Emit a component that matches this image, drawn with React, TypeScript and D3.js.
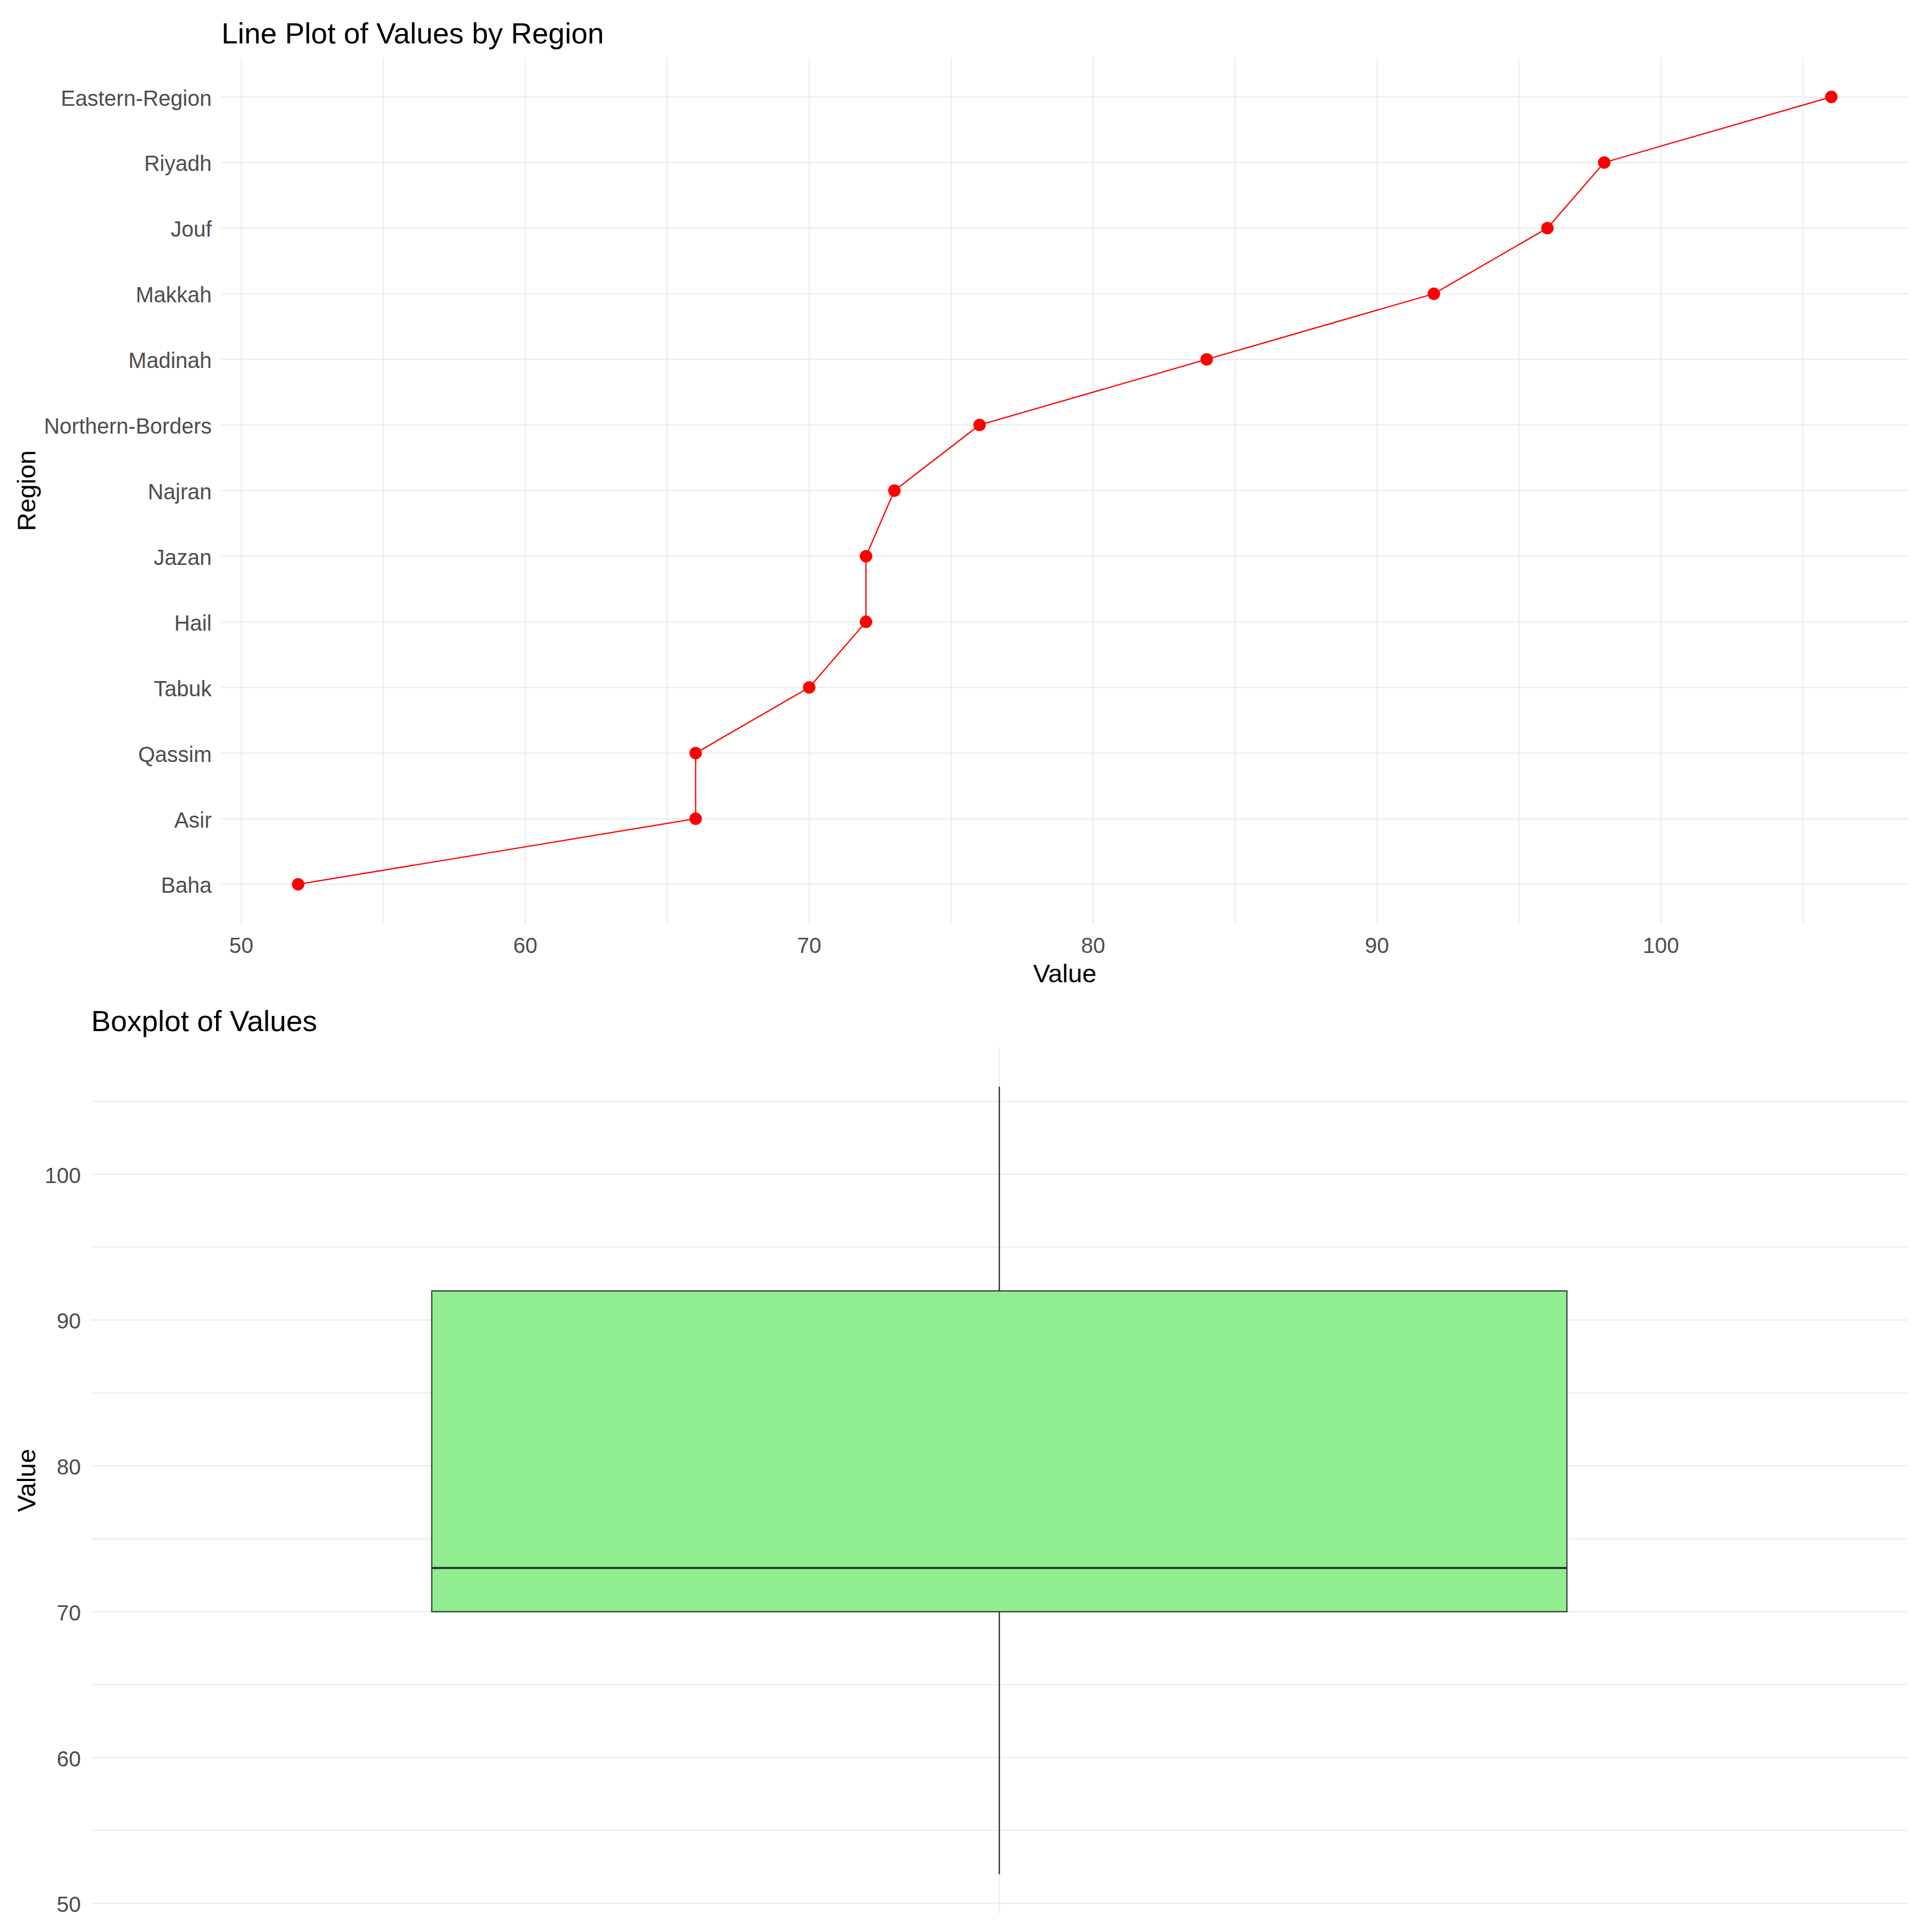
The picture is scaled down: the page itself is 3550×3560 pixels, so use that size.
import { useEffect, useRef } from 'react'
import * as d3 from 'd3'

const WIDTH = 3550
const HEIGHT = 3560
const FONT = '"Liberation Sans", Arial, sans-serif'

// Data (bottom to top)
const regions = ['Baha', 'Asir', 'Qassim', 'Tabuk', 'Hail', 'Jazan', 'Najran', 'Northern-Borders', 'Madinah', 'Makkah', 'Jouf', 'Riyadh', 'Eastern-Region']
const values = [52, 66, 66, 70, 72, 72, 73, 76, 84, 92, 96, 98, 106]
const valueTicks = [50, 60, 70, 80, 90, 100]
const valueMinorTicks = [55, 65, 75, 85, 95, 105]

// Panel boxes (ggplot-like layout)
const TOP = { left: 408, right: 3515, top: 106, bottom: 1702 }
const BOT = { left: 168, right: 3514, top: 1930, bottom: 3526 }

const GRID = '#ebebeb'
const AXIS_TEXT = '#4d4d4d'
const TICK_SIZE = 40

function App() {
  const svgRef = useRef<SVGSVGElement | null>(null)

  useEffect(() => {
    if (!svgRef.current) return
    const svg = d3.select(svgRef.current)
    svg.selectAll('*').remove()

    svg.append('rect').attr('width', WIDTH).attr('height', HEIGHT).attr('fill', '#fff')

    // ---------- Line plot ----------
    const ext = d3.extent(values) as [number, number]
    const pad = (ext[1] - ext[0]) * 0.05
    const x = d3.scaleLinear()
      .domain([ext[0] - pad, ext[1] + pad])
      .range([TOP.left, TOP.right])

    // discrete y with 0.6 expansion on each side
    const yIdx = d3.scaleLinear()
      .domain([-0.6, regions.length - 1 + 0.6])
      .range([TOP.bottom, TOP.top])
    const y = (r: string) => yIdx(regions.indexOf(r))

    const g1 = svg.append('g')

    // gridlines
    g1.selectAll('.vminor')
      .data(valueMinorTicks)
      .enter()
      .append('line')
      .attr('x1', d => x(d)).attr('x2', d => x(d))
      .attr('y1', TOP.top).attr('y2', TOP.bottom)
      .attr('stroke', GRID).attr('stroke-width', 2)

    g1.selectAll('.vmajor')
      .data(valueTicks)
      .enter()
      .append('line')
      .attr('x1', d => x(d)).attr('x2', d => x(d))
      .attr('y1', TOP.top).attr('y2', TOP.bottom)
      .attr('stroke', GRID).attr('stroke-width', 2.2)

    g1.selectAll('.hmajor')
      .data(regions)
      .enter()
      .append('line')
      .attr('x1', TOP.left).attr('x2', TOP.right)
      .attr('y1', d => y(d)).attr('y2', d => y(d))
      .attr('stroke', GRID).attr('stroke-width', 2.2)

    // line + points
    const pts = regions.map((r, i) => ({ region: r, value: values[i] }))
    const line = d3.line<{ region: string, value: number }>()
      .x(d => x(d.value))
      .y(d => y(d.region))

    g1.append('path')
      .attr('d', line(pts))
      .attr('fill', 'none')
      .attr('stroke', '#ff0000')
      .attr('stroke-width', 2.3)

    g1.selectAll('.pt')
      .data(pts)
      .enter()
      .append('circle')
      .attr('cx', d => x(d.value))
      .attr('cy', d => y(d.region))
      .attr('r', 11.5)
      .attr('fill', '#ff0000')

    // axis labels
    g1.selectAll('.xlab')
      .data(valueTicks)
      .enter()
      .append('text')
      .attr('x', d => x(d))
      .attr('y', 1756)
      .attr('text-anchor', 'middle')
      .attr('font-family', FONT)
      .attr('font-size', TICK_SIZE)
      .attr('fill', AXIS_TEXT)
      .text(d => d)

    g1.selectAll('.ylab')
      .data(regions)
      .enter()
      .append('text')
      .attr('x', 390)
      .attr('y', d => y(d))
      .attr('dy', '0.4em')
      .attr('text-anchor', 'end')
      .attr('font-family', FONT)
      .attr('font-size', TICK_SIZE)
      .attr('fill', AXIS_TEXT)
      .text(d => d)

    g1.append('text')
      .attr('x', (TOP.left + TOP.right) / 2)
      .attr('y', 1810)
      .attr('text-anchor', 'middle')
      .attr('font-family', FONT)
      .attr('font-size', 47)
      .attr('fill', '#000')
      .text('Value')

    g1.append('text')
      .attr('transform', `translate(65, ${(TOP.top + TOP.bottom) / 2}) rotate(-90)`)
      .attr('text-anchor', 'middle')
      .attr('font-family', FONT)
      .attr('font-size', 47)
      .attr('fill', '#000')
      .text('Region')

    g1.append('text')
      .attr('x', TOP.left)
      .attr('y', 80)
      .attr('font-family', FONT)
      .attr('font-size', 54)
      .attr('fill', '#000')
      .text('Line Plot of Values by Region')

    // ---------- Boxplot ----------
    const yv = d3.scaleLinear()
      .domain([ext[0] - pad, ext[1] + pad])
      .range([BOT.bottom, BOT.top])
    // one discrete category, 0.6 expansion each side
    const xb = d3.scaleLinear().domain([0.4, 1.6]).range([BOT.left, BOT.right])

    const sorted = values.slice().sort(d3.ascending)
    const q1 = d3.quantile(sorted, 0.25) as number
    const med = d3.quantile(sorted, 0.5) as number
    const q3 = d3.quantile(sorted, 0.75) as number
    const iqr = q3 - q1
    const lo = d3.min(sorted.filter(v => v >= q1 - 1.5 * iqr)) as number
    const hi = d3.max(sorted.filter(v => v <= q3 + 1.5 * iqr)) as number

    const g2 = svg.append('g')

    g2.selectAll('.hminor')
      .data(valueMinorTicks)
      .enter()
      .append('line')
      .attr('x1', BOT.left).attr('x2', BOT.right)
      .attr('y1', d => yv(d)).attr('y2', d => yv(d))
      .attr('stroke', GRID).attr('stroke-width', 2)

    g2.selectAll('.hmajor')
      .data(valueTicks)
      .enter()
      .append('line')
      .attr('x1', BOT.left).attr('x2', BOT.right)
      .attr('y1', d => yv(d)).attr('y2', d => yv(d))
      .attr('stroke', GRID).attr('stroke-width', 2.2)

    g2.append('line')
      .attr('x1', xb(1)).attr('x2', xb(1))
      .attr('y1', BOT.top).attr('y2', BOT.bottom)
      .attr('stroke', GRID).attr('stroke-width', 2.2)

    // whiskers
    g2.append('line')
      .attr('x1', xb(1)).attr('x2', xb(1))
      .attr('y1', yv(hi)).attr('y2', yv(q3))
      .attr('stroke', '#333333').attr('stroke-width', 2.4)
    g2.append('line')
      .attr('x1', xb(1)).attr('x2', xb(1))
      .attr('y1', yv(q1)).attr('y2', yv(lo))
      .attr('stroke', '#333333').attr('stroke-width', 2.4)

    // box
    g2.append('rect')
      .attr('x', xb(1 - 0.375))
      .attr('width', xb(1 + 0.375) - xb(1 - 0.375))
      .attr('y', yv(q3))
      .attr('height', yv(q1) - yv(q3))
      .attr('fill', '#90ee90')
      .attr('stroke', '#333333')
      .attr('stroke-width', 2.2)

    g2.append('line')
      .attr('x1', xb(1 - 0.375)).attr('x2', xb(1 + 0.375))
      .attr('y1', yv(med)).attr('y2', yv(med))
      .attr('stroke', '#333333').attr('stroke-width', 4)

    g2.selectAll('.ylab')
      .data(valueTicks)
      .enter()
      .append('text')
      .attr('x', 149)
      .attr('y', d => yv(d))
      .attr('dy', '0.4em')
      .attr('text-anchor', 'end')
      .attr('font-family', FONT)
      .attr('font-size', TICK_SIZE)
      .attr('fill', AXIS_TEXT)
      .text(d => d)

    g2.append('text')
      .attr('transform', `translate(65, ${(BOT.top + BOT.bottom) / 2}) rotate(-90)`)
      .attr('text-anchor', 'middle')
      .attr('font-family', FONT)
      .attr('font-size', 47)
      .attr('fill', '#000')
      .text('Value')

    g2.append('text')
      .attr('x', BOT.left)
      .attr('y', 1900)
      .attr('font-family', FONT)
      .attr('font-size', 54)
      .attr('fill', '#000')
      .text('Boxplot of Values')
  }, [])

  return (
    <svg
      ref={svgRef}
      width={WIDTH}
      height={HEIGHT}
      style={{ position: 'absolute', left: 0, top: 0, display: 'block' }}
    />
  )
}

export default App
